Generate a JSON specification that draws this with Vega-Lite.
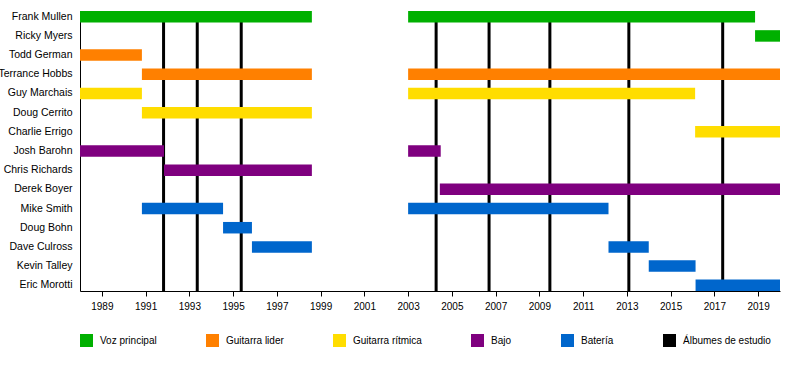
{
  "$schema": "https://vega.github.io/schema/vega-lite/v6.json",
  "autosize": {"type": "none"},
  "padding": {"left": 80, "top": 11, "right": 20, "bottom": 79},
  "width": 700,
  "height": 280,
  "background": "white",
  "config": {
    "view": {"stroke": null},
    "font": "Liberation Sans",
    "axis": {"labelFont": "Liberation Sans", "labelColor": "black", "domainColor": "black", "tickColor": "black"},
    "legend": {"labelFont": "Liberation Sans"}
  },
  "datasets": {
    "members": [
      {"name": "Frank Mullen", "role": "Voz principal", "start": 1988, "end": 1998.6},
      {"name": "Frank Mullen", "role": "Voz principal", "start": 2003.0, "end": 2018.86},
      {"name": "Ricky Myers", "role": "Voz principal", "start": 2018.86, "end": 2020},
      {"name": "Todd German", "role": "Guitarra lider", "start": 1988, "end": 1990.83},
      {"name": "Terrance Hobbs", "role": "Guitarra lider", "start": 1990.83, "end": 1998.6},
      {"name": "Terrance Hobbs", "role": "Guitarra lider", "start": 2003.0, "end": 2020},
      {"name": "Guy Marchais", "role": "Guitarra rítmica", "start": 1988, "end": 1990.83},
      {"name": "Guy Marchais", "role": "Guitarra rítmica", "start": 2003.0, "end": 2016.12},
      {"name": "Doug Cerrito", "role": "Guitarra rítmica", "start": 1990.83, "end": 1998.6},
      {"name": "Charlie Errigo", "role": "Guitarra rítmica", "start": 2016.12, "end": 2020},
      {"name": "Josh Barohn", "role": "Bajo", "start": 1988, "end": 1991.84},
      {"name": "Josh Barohn", "role": "Bajo", "start": 2003.0, "end": 2004.49},
      {"name": "Chris Richards", "role": "Bajo", "start": 1991.84, "end": 1998.6},
      {"name": "Derek Boyer", "role": "Bajo", "start": 2004.45, "end": 2020},
      {"name": "Mike Smith", "role": "Batería", "start": 1990.83, "end": 1994.54},
      {"name": "Mike Smith", "role": "Batería", "start": 2003.0, "end": 2012.16},
      {"name": "Doug Bohn", "role": "Batería", "start": 1994.54, "end": 1995.86},
      {"name": "Dave Culross", "role": "Batería", "start": 1995.86, "end": 1998.6},
      {"name": "Dave Culross", "role": "Batería", "start": 2012.16, "end": 2014.0},
      {"name": "Kevin Talley", "role": "Batería", "start": 2014.0, "end": 2016.14},
      {"name": "Eric Morotti", "role": "Batería", "start": 2016.14, "end": 2020}
    ],
    "albums": [
      {"year": 1991.82, "role": "Álbumes de estudio"},
      {"year": 1993.36, "role": "Álbumes de estudio"},
      {"year": 1995.37, "role": "Álbumes de estudio"},
      {"year": 2004.28, "role": "Álbumes de estudio"},
      {"year": 2006.7, "role": "Álbumes de estudio"},
      {"year": 2009.48, "role": "Álbumes de estudio"},
      {"year": 2013.09, "role": "Álbumes de estudio"},
      {"year": 2017.38, "role": "Álbumes de estudio"}
    ]
  },
  "layer": [
    {
      "data": {"name": "albums"},
      "mark": {"type": "rule", "strokeWidth": 3},
      "encoding": {
        "x": {"field": "year", "type": "quantitative"},
        "color": {"field": "role", "type": "nominal"}
      }
    },
    {
      "data": {"name": "members"},
      "mark": {"type": "bar"},
      "encoding": {
        "y": {
          "field": "name",
          "type": "nominal",
          "sort": ["Frank Mullen", "Ricky Myers", "Todd German", "Terrance Hobbs", "Guy Marchais", "Doug Cerrito", "Charlie Errigo", "Josh Barohn", "Chris Richards", "Derek Boyer", "Mike Smith", "Doug Bohn", "Dave Culross", "Kevin Talley", "Eric Morotti"],
          "scale": {"paddingInner": 0.4, "paddingOuter": 0},
          "axis": {"title": null, "ticks": false, "tickSize": 0, "labelPadding": 8, "labelFontSize": 10.5, "domainWidth": 1, "labelLimit": 200}
        },
        "x": {
          "field": "start",
          "type": "quantitative",
          "scale": {"domain": [1988, 2020], "nice": false, "zero": false},
          "axis": {
            "title": null,
            "values": [1989, 1990, 1991, 1992, 1993, 1994, 1995, 1996, 1997, 1998, 1999, 2000, 2001, 2002, 2003, 2004, 2005, 2006, 2007, 2008, 2009, 2010, 2011, 2012, 2013, 2014, 2015, 2016, 2017, 2018, 2019, 2020],
            "labelExpr": "datum.value % 2 == 1 ? datum.value : ''",
            "tickSize": {"condition": {"test": "datum.value % 2 == 1", "value": 5}, "value": 3},
            "labelPadding": 5,
            "labelFontSize": 10,
            "grid": false,
            "labelFlush": false,
            "labelOverlap": false
          }
        },
        "x2": {"field": "end"},
        "color": {
          "field": "role",
          "type": "nominal",
          "scale": {
            "domain": ["Voz principal", "Guitarra lider", "Guitarra rítmica", "Bajo", "Batería", "Álbumes de estudio"],
            "range": ["#00B000", "#FF8000", "#FFDD00", "#7F007F", "#0066CC", "#000000"]
          },
          "legend": {
            "title": null,
            "orient": "none",
            "direction": "horizontal",
            "legendX": 0,
            "legendY": 323,
            "padding": 0,
            "symbolType": "square",
            "symbolSize": 169,
            "symbolStrokeWidth": 0,
            "labelFontSize": 10,
            "labelOffset": 7,
            "columnPadding": 49,
            "gridAlign": "none",
            "columns": 6,
            "labelLimit": 300
          }
        }
      }
    }
  ]
}
